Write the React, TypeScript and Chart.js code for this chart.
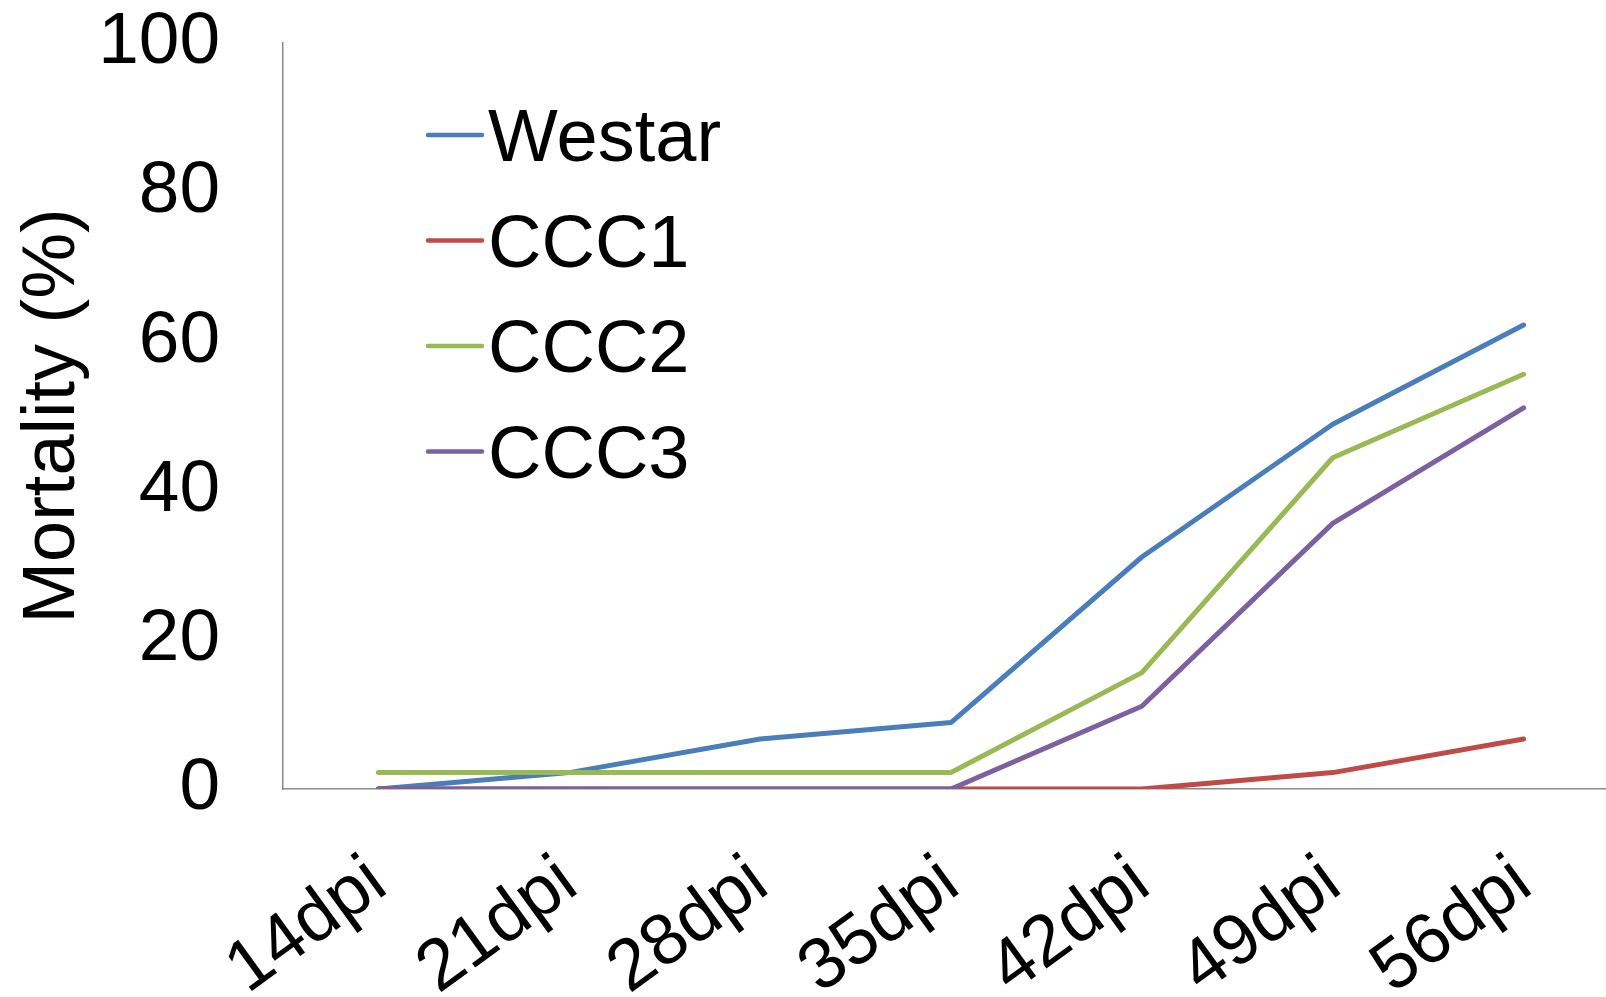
import React, { useEffect, useRef } from "react";
import { Chart, registerables } from "chart.js";

Chart.register(...registerables);

const categories = ["14dpi", "21dpi", "28dpi", "35dpi", "42dpi", "49dpi", "56dpi"];
const seriesNames = ["Westar", "CCC1", "CCC2", "CCC3"];
const westar = [0, 2.2, 6.7, 8.9, 31.1, 48.9, 62.2];
const ccc1 = [0, 0, 0, 0, 0, 2.2, 6.7];
const ccc2 = [2.2, 2.2, 2.2, 2.2, 15.6, 44.4, 55.6];
const ccc3 = [0, 0, 0, 0, 11.1, 35.6, 51.1];
const colors = ["#4a7ebb", "#be4b48", "#98b954", "#7d60a0"];
const yTicks = [0, 20, 40, 60, 80, 100];

const FONT = '"Liberation Sans", Arial, sans-serif';

const legendPlugin = {
  id: "customLegend",
  afterDraw(chart: any) {
    const { ctx, chartArea } = chart;
    const x0 = chartArea.left + 145;
    const y0 = chartArea.top + 92;
    const rowH = 105.5;
    chart.data.datasets.forEach((ds: any, i: number) => {
      const y = y0 + i * rowH;
      ctx.save();
      ctx.strokeStyle = ds.borderColor;
      ctx.lineWidth = 4.5;
      ctx.lineCap = "round";
      ctx.beginPath();
      ctx.moveTo(x0, y);
      ctx.lineTo(x0 + 54, y);
      ctx.stroke();
      ctx.fillStyle = "#000";
      ctx.font = `74px ${FONT}`;
      ctx.textBaseline = "middle";
      ctx.textAlign = "left";
      ctx.fillText(ds.label, x0 + 60, y + 6);
      ctx.restore();
    });
  },
};

export default function App() {
  const ref = useRef<HTMLCanvasElement | null>(null);
  useEffect(() => {
    if (!ref.current) return;
    const data = [westar, ccc1, ccc2, ccc3];
    const chart = new Chart(ref.current, {
      type: "line",
      data: {
        labels: categories,
        datasets: seriesNames.map((name, i) => ({
          label: name,
          data: data[i],
          borderColor: colors[i],
          backgroundColor: colors[i],
          borderWidth: 5,
          borderCapStyle: "round",
          borderJoinStyle: "round",
          pointRadius: 0,
          pointHoverRadius: 0,
          tension: 0,
          fill: false,
          order: 3 - i,
        })),
      },
      options: {
        animation: false,
        responsive: true,
        maintainAspectRatio: false,
        layout: { padding: { left: 0, right: 0, top: 43, bottom: 0 } },
        plugins: {
          legend: { display: false },
          tooltip: { enabled: false },
        },
        scales: {
          x: {
            type: "category",
            offset: true,
            grid: { display: false, drawTicks: false },
            border: { display: true, color: "#898989", width: 1.5 },
            ticks: {
              autoSkip: false,
              minRotation: 36,
              maxRotation: 36,
              padding: 76,
              color: "#000",
              font: { family: FONT, size: 72, lineHeight: "24px" },
            },
            afterFit: (scale: any) => {
              scale.height = 997 - 789;
              scale.paddingLeft = 0;
              scale.paddingRight = 0;
            },
          },
          y: {
            min: 0,
            max: 100,
            afterBuildTicks: (scale: any) => {
              scale.ticks = yTicks.map((v) => ({ value: v }));
            },
            grid: { display: false, drawTicks: false },
            border: { display: true, color: "#898989", width: 1.5 },
            ticks: {
              padding: 63,
              color: "#000",
              font: { family: FONT, size: 73 },
            },
            title: {
              display: true,
              text: "Mortality (%)",
              color: "#000",
              padding: { top: 17, bottom: 0 },
              font: { family: FONT, size: 74, lineHeight: 1 },
            },
            afterFit: (scale: any) => {
              scale.width = 283;
              scale.paddingTop = 0;
              scale.paddingBottom = 0;
            },
          },
        },
      },
      plugins: [legendPlugin],
    });
    return () => chart.destroy();
  }, []);

  return (
    <div
      style={{
        position: "fixed",
        left: 0,
        top: 0,
        width: 1606,
        height: 997,
        overflow: "hidden",
        background: "#fff",
      }}
    >
      <div style={{ position: "relative", width: 1619, height: 997 }}>
        <canvas ref={ref} />
      </div>
    </div>
  );
}
